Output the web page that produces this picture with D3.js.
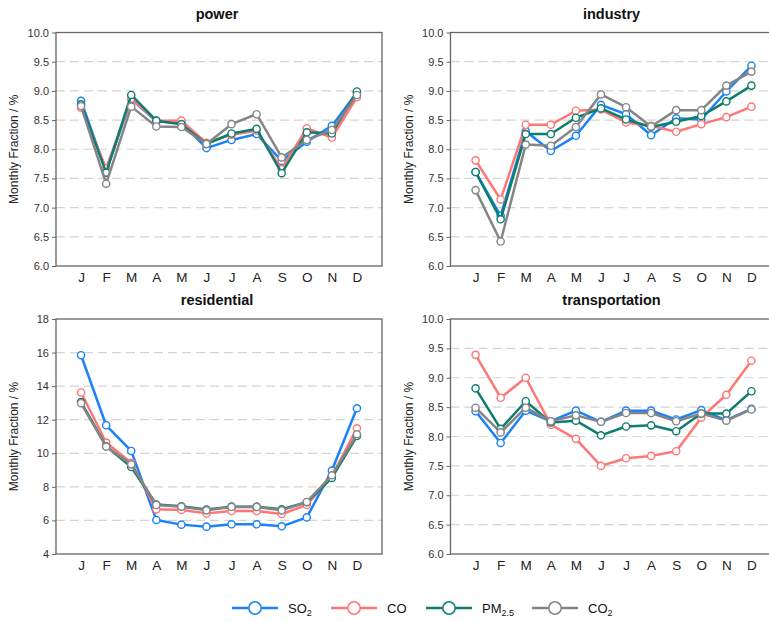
<!DOCTYPE html>
<html>
<head>
<meta charset="utf-8">
<script src="https://cdn.jsdelivr.net/npm/d3@7"></script>
<style>
  html, body { margin: 0; padding: 0; background: #fff; }
  svg { display: block; font-family: "Liberation Sans", Arial, sans-serif; }
</style>
</head>
<body>
<svg id="chart" width="769" height="621"></svg>
<script>
// Month labels along the x axis
const months = ["J", "F", "M", "A", "M", "J", "J", "A", "S", "O", "N", "D"];

// Pollutant series (drawing order) and their colours
const species = ["SO2", "CO", "PM2.5", "CO2"];
const speciesColors = ["#1a82f7", "#ff7676", "#0f7d6d", "#858585"];

// Monthly fraction (%) per sector, one row per species: SO2, CO, PM2.5, CO2
const powerValues = [
  [8.83, 7.62, 8.86, 8.48, 8.45, 8.02, 8.16, 8.26, 7.80, 8.13, 8.40, 8.97],
  [8.71, 7.67, 8.87, 8.49, 8.49, 8.11, 8.25, 8.32, 7.66, 8.36, 8.20, 8.89],
  [8.77, 7.60, 8.93, 8.49, 8.43, 8.09, 8.27, 8.35, 7.59, 8.29, 8.27, 8.99],
  [8.74, 7.41, 8.73, 8.39, 8.38, 8.09, 8.43, 8.60, 7.86, 8.16, 8.33, 8.93]
];
const industryValues = [
  [7.61, 6.86, 8.31, 7.97, 8.23, 8.76, 8.60, 8.24, 8.53, 8.51, 8.99, 9.43],
  [7.81, 7.14, 8.42, 8.42, 8.66, 8.68, 8.46, 8.40, 8.30, 8.43, 8.55, 8.73],
  [7.61, 6.80, 8.26, 8.26, 8.54, 8.70, 8.51, 8.38, 8.47, 8.57, 8.82, 9.09],
  [7.30, 6.42, 8.08, 8.06, 8.38, 8.94, 8.72, 8.39, 8.67, 8.67, 9.09, 9.33]
];
const residentialValues = [
  [15.84, 11.67, 10.14, 6.03, 5.75, 5.63, 5.77, 5.77, 5.65, 6.18, 8.97, 12.68],
  [13.62, 10.64, 9.44, 6.66, 6.62, 6.42, 6.56, 6.56, 6.38, 6.92, 8.62, 11.49],
  [13.05, 10.42, 9.18, 6.95, 6.84, 6.65, 6.82, 6.82, 6.67, 7.08, 8.53, 11.03],
  [12.98, 10.40, 9.34, 6.92, 6.82, 6.60, 6.80, 6.80, 6.60, 7.10, 8.69, 11.13]
];
const transportationValues = [
  [8.43, 7.89, 8.44, 8.26, 8.44, 8.25, 8.44, 8.44, 8.29, 8.45, 8.28, 8.47],
  [9.39, 8.66, 9.00, 8.20, 7.96, 7.50, 7.63, 7.67, 7.75, 8.32, 8.71, 9.29],
  [8.82, 8.13, 8.60, 8.24, 8.27, 8.02, 8.17, 8.19, 8.09, 8.39, 8.39, 8.77],
  [8.49, 8.07, 8.49, 8.26, 8.36, 8.25, 8.40, 8.40, 8.26, 8.39, 8.27, 8.46]
];

// Y axis settings per panel
const fractionDomain = [6, 10];
const fractionTicks = [6.0, 6.5, 7.0, 7.5, 8.0, 8.5, 9.0, 9.5, 10.0];
const residentialDomain = [4, 18];
const residentialTicks = [4, 6, 8, 10, 12, 14, 16, 18];

const panels = [
  { title: "power", values: powerValues, domain: fractionDomain, ticks: fractionTicks, fmt: d3.format(".1f"),
    x0: 56, x1: 382, y0: 32.5, y1: 266 },
  { title: "industry", values: industryValues, domain: fractionDomain, ticks: fractionTicks, fmt: d3.format(".1f"),
    x0: 450.5, x1: 776.5, y0: 32.5, y1: 266 },
  { title: "residential", values: residentialValues, domain: residentialDomain, ticks: residentialTicks, fmt: d3.format("d"),
    x0: 56, x1: 382, y0: 319, y1: 554 },
  { title: "transportation", values: transportationValues, domain: fractionDomain, ticks: fractionTicks, fmt: d3.format(".1f"),
    x0: 450.5, x1: 776.5, y0: 319, y1: 554 }
];

const svg = d3.select("#chart");
const axisColor = "#666";

panels.forEach(p => {
  const g = svg.append("g");
  const x = d3.scalePoint().domain(d3.range(months.length)).range([p.x0, p.x1]).padding(1);
  const y = d3.scaleLinear().domain(p.domain).range([p.y1, p.y0]);

  // dashed horizontal gridlines at the inner ticks
  g.selectAll("line.grid")
    .data(p.ticks.filter(t => t > p.domain[0] && t < p.domain[1]))
    .join("line")
    .attr("x1", p.x0).attr("x2", p.x1)
    .attr("y1", d => y(d)).attr("y2", d => y(d))
    .attr("stroke", "#d4d4d4").attr("stroke-width", 1.2)
    .attr("stroke-dasharray", "9,5");

  // frame
  g.append("rect")
    .attr("x", p.x0).attr("y", p.y0)
    .attr("width", p.x1 - p.x0).attr("height", p.y1 - p.y0)
    .attr("fill", "none").attr("stroke", axisColor).attr("stroke-width", 1.3);

  // y axis
  const yAxis = d3.axisLeft(y).tickValues(p.ticks).tickFormat(p.fmt).tickSize(4).tickPadding(3);
  const ya = g.append("g").attr("transform", `translate(${p.x0},0)`).call(yAxis);
  ya.select(".domain").remove();
  ya.selectAll(".tick line").attr("stroke", axisColor);
  ya.selectAll(".tick text").attr("fill", "#333").style("font-size", "11px")
    .style("font-family", "'Liberation Sans', Arial, sans-serif");

  // x axis
  const xAxis = d3.axisBottom(x).tickFormat(i => months[i]).tickSize(0).tickPadding(6);
  const xa = g.append("g").attr("transform", `translate(0,${p.y1})`).call(xAxis);
  xa.select(".domain").remove();
  xa.selectAll(".tick text").attr("fill", "#222").style("font-size", "13.5px")
    .style("font-family", "'Liberation Sans', Arial, sans-serif");

  // panel title
  g.append("text")
    .attr("x", (p.x0 + p.x1) / 2 - 2).attr("y", p.y0 - 14)
    .attr("text-anchor", "middle")
    .attr("font-size", "14.5px").attr("font-weight", "bold").attr("fill", "#111")
    .text(p.title);

  // y axis label
  g.append("text")
    .attr("transform", `translate(${p.x0 - 38},${(p.y0 + p.y1) / 2}) rotate(-90)`)
    .attr("text-anchor", "middle")
    .attr("font-size", "12px").attr("fill", "#222")
    .text("Monthly Fraction / %");

  // series lines and markers
  const line = d3.line().x((d, i) => x(i)).y(d => y(d));
  p.values.forEach((vals, si) => {
    const s = g.append("g");
    s.append("path").datum(vals)
      .attr("d", line)
      .attr("fill", "none")
      .attr("stroke", speciesColors[si])
      .attr("stroke-width", 2.5)
      .attr("stroke-linejoin", "round");
    s.selectAll("circle").data(vals).join("circle")
      .attr("cx", (d, i) => x(i)).attr("cy", d => y(d))
      .attr("r", 3.6)
      .attr("fill", "#fff")
      .attr("stroke", speciesColors[si])
      .attr("stroke-width", 1.4);
  });
});

// legend
const legendItems = [
  { base: "SO", sub: "2", x: 232 },
  { base: "CO", sub: "", x: 331 },
  { base: "PM", sub: "2.5", x: 426 },
  { base: "CO", sub: "2", x: 532 }
];
const legendY = 608;
const lg = svg.append("g");
legendItems.forEach((it, i) => {
  const c = speciesColors[i];
  lg.append("line")
    .attr("x1", it.x).attr("x2", it.x + 46)
    .attr("y1", legendY).attr("y2", legendY)
    .attr("stroke", c).attr("stroke-width", 2.6);
  lg.append("circle")
    .attr("cx", it.x + 23).attr("cy", legendY).attr("r", 6.2)
    .attr("fill", "#fff").attr("stroke", c).attr("stroke-width", 1.5);
  const t = lg.append("text")
    .attr("x", it.x + 56).attr("y", legendY + 4.5)
    .attr("font-size", "13px").attr("fill", "#111");
  t.append("tspan").text(it.base);
  if (it.sub) {
    t.append("tspan").attr("font-size", "9px").attr("dy", 3).text(it.sub);
  }
});
</script>
</body>
</html>
